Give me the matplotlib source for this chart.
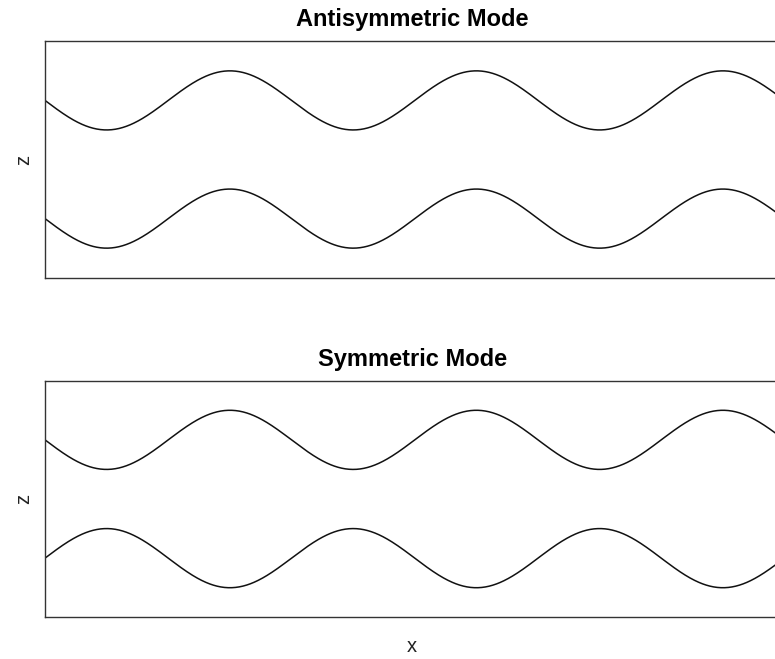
import numpy as np
import matplotlib
matplotlib.use("Agg")
from matplotlib import pyplot as plt

plt.rcParams['font.family'] = ['Liberation Sans', 'DejaVu Sans']

# wave parameters (data units)
n_periods = 3
amp = 0.5
centers = [1.0, -1.0]
titles = ["Antisymmetric Mode", "Symmetric Mode"]
# sign of lower wave relative to upper one, per panel
lower_sign = [1, -1]

x = np.linspace(0, n_periods * 2 * np.pi, 1200)

W, H = 775, 659
fig = plt.figure(figsize=(W / 100, H / 100), dpi=100)

left = 45 / W
width = (784.5 - 45) / W
boxes = [(41.3, 277.7), (380.7, 617.3)]

for i, (top, bot) in enumerate(boxes):
    ax = fig.add_axes([left, 1 - bot / H, width, (bot - top) / H])
    upper = centers[0] - amp * np.sin(x)
    lower = centers[1] - lower_sign[i] * amp * np.sin(x)
    ax.plot(x, upper, color="#111111", lw=1.1)
    ax.plot(x, lower, color="#111111", lw=1.1)
    ax.set_xlim(x[0], x[-1])
    ax.set_ylim(-2, 2)
    ax.set_xticks([])
    ax.set_yticks([])
    for s in ax.spines.values():
        s.set_linewidth(1.0)
        s.set_color("#333333")
    # title baseline ~15 px above the box
    ax.text(412.5 / W, 1 - (top - 15) / H, titles[i], transform=fig.transFigure,
            ha="center", va="baseline", fontsize=17, fontweight="bold")
    fig.text(23.5 / W, 1 - (top + bot) / 2 / H, "z", rotation=90,
             ha="center", va="center", fontsize=14.5, color="#222222")

fig.text(412 / W, 1 - 646 / H, "x", ha="center", va="center",
         fontsize=14.5, color="#222222")

fig.savefig("out.png", dpi=100)
